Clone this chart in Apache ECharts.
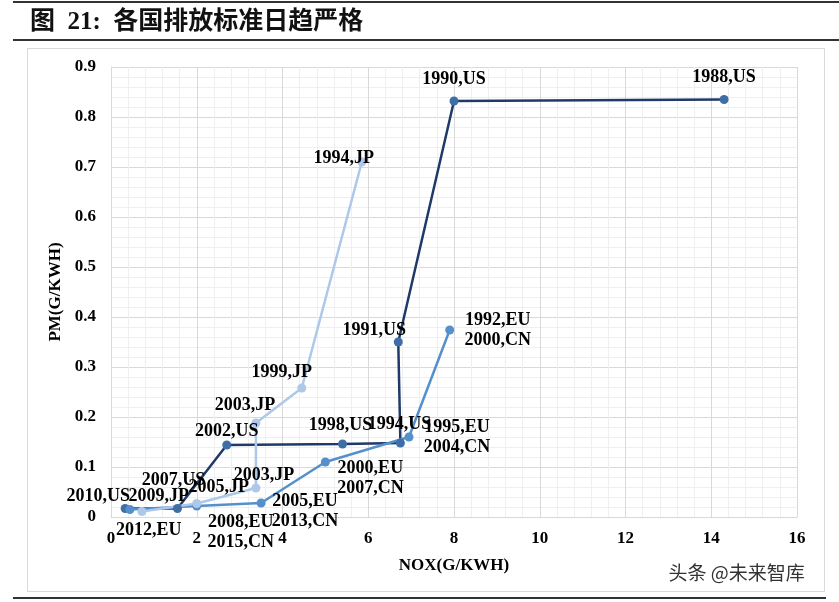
<!DOCTYPE html>
<html>
<head>
<meta charset="utf-8">
<script src="https://cdn.jsdelivr.net/npm/echarts@6/dist/echarts.min.js"></script>
<style>
  html, body { margin: 0; padding: 0; background: #fff; }
  #chart { width: 839px; height: 602px; }
</style>
</head>
<body>
<div id="chart"></div>
<script>
// values
const xTicks = [0, 2, 4, 6, 8, 10, 12, 14, 16]
const yTicks = [0, 0.1, 0.2, 0.3, 0.4, 0.5, 0.6, 0.7, 0.8, 0.9]

const usNox = [14.3, 8.0, 6.7, 6.75, 5.4, 2.7, 1.55, 0.33]
const usPm = [0.835, 0.832, 0.35, 0.148, 0.146, 0.144, 0.017, 0.017]
const usLabels = ['1988,US', '1990,US', '1991,US', '1994,US', '1998,US', '2002,US', '2007,US', '2010,US']

const euNox = [7.9, 6.95, 5.0, 3.5, 2.0, 0.44]
const euPm = [0.374, 0.16, 0.11, 0.028, 0.022, 0.015]
const euLabels = ['1992,EU\n2000,CN', '1995,EU\n2004,CN', '2000,EU\n2007,CN', '2005,EU\n2013,CN', '2008,EU\n2015,CN', '2012,EU']

const jpNox = [5.85, 4.45, 3.38, 3.38, 2.0, 0.72]
const jpPm = [0.71, 0.258, 0.188, 0.058, 0.027, 0.011]
const jpLabels = ['1994,JP', '1999,JP', '2003,JP', '2003,JP', '2005,JP', '2009,JP']

// label offsets from the point centre (px)
const usOff = [[0, -22], [0, -22], [-24, -12], [-1, -19], [-2, -19], [0, -14], [-4, -28], [-27, -12]]
const euOff = [[48, 0], [48, 0], [45, 16], [44, 8], [44, 26], [19, 21]]
const jpOff = [[-18, -4], [-20, -16], [-11, -18], [8, -13], [22, -16], [17, -15]]

const serif = '"Liberation Serif", "Times New Roman", serif'
const symSize = 9

const makeData = (xs, ys, labels, offs) =>
  xs.map((x, i) => ({
    value: [x, ys[i]],
    label: {
      formatter: labels[i],
      position: [symSize / 2 + offs[i][0], symSize / 2 + offs[i][1]],
    },
  }))

const labelStyle = {
  show: true,
  align: 'center',
  verticalAlign: 'middle',
  color: '#000',
  fontFamily: serif,
  fontWeight: 'bold',
  fontSize: 18,
  lineHeight: 20,
}

const series = [
  { name: 'US', line: '#1f3a68', dot: '#3f6ea7', xs: usNox, ys: usPm, labels: usLabels, offs: usOff },
  { name: 'EU', line: '#5590cc', dot: '#5590cc', xs: euNox, ys: euPm, labels: euLabels, offs: euOff },
  { name: 'JP', line: '#adc8e8', dot: '#adc8e8', xs: jpNox, ys: jpPm, labels: jpLabels, offs: jpOff },
].map((s) => ({
  name: s.name,
  type: 'line',
  data: makeData(s.xs, s.ys, s.labels, s.offs),
  symbol: 'circle',
  symbolSize: symSize,
  showAllSymbol: true,
  lineStyle: { color: s.line, width: 2.5 },
  itemStyle: { color: s.dot },
  label: labelStyle,
  labelLayout: { hideOverlap: false },
  z: 3,
  animation: false,
}))

const axisFont = { fontFamily: serif, fontWeight: 'bold', fontSize: 17, color: '#000' }

const chart = echarts.init(document.getElementById('chart'))
chart.setOption({
  backgroundColor: '#fff',
  animation: false,
  grid: { left: 111, right: 42, top: 67, bottom: 85 },
  xAxis: {
    type: 'value',
    min: xTicks[0],
    max: xTicks[xTicks.length - 1],
    interval: 2,
    name: 'NOX(G/KWH)',
    nameLocation: 'middle',
    nameGap: 40,
    nameTextStyle: axisFont,
    axisLine: { show: true, lineStyle: { color: '#d9d9d9' } },
    axisTick: { show: false },
    axisLabel: { ...axisFont, margin: 13 },
    splitLine: { show: true, lineStyle: { color: '#d9d9d9', width: 1 } },
    minorTick: { show: false, splitNumber: 5 },
    minorSplitLine: { show: true, lineStyle: { color: '#efefef', width: 1 } },
  },
  yAxis: {
    type: 'value',
    min: yTicks[0],
    max: yTicks[yTicks.length - 1],
    interval: 0.1,
    name: 'PM(G/KWH)',
    nameLocation: 'middle',
    nameGap: 35,
    nameTextStyle: axisFont,
    axisLine: { show: true, lineStyle: { color: '#d9d9d9' } },
    axisTick: { show: false },
    axisLabel: {
      ...axisFont, margin: 15,
      formatter: (v) => (v === 0 ? '0' : v.toFixed(1)),
    },
    splitLine: { show: true, lineStyle: { color: '#d9d9d9', width: 1 } },
    minorTick: { show: false, splitNumber: 5 },
    minorSplitLine: { show: true, lineStyle: { color: '#efefef', width: 1 } },
  },
  graphic: [
    { type: 'rect', shape: { x: 13, y: 1, width: 826, height: 2 }, style: { fill: '#333' } },
    { type: 'rect', shape: { x: 13, y: 39, width: 826, height: 2 }, style: { fill: '#333' } },
    { type: 'rect', shape: { x: 13, y: 597, width: 813, height: 2 }, style: { fill: '#333' } },
    {
      type: 'rect', z: -1,
      shape: { x: 27.5, y: 48.5, width: 797, height: 543 },
      style: { fill: 'none', stroke: '#d9d9d9', lineWidth: 1 },
    },
    {
      type: 'text', left: 30, top: 10,
      style: {
        text: '图  21:  各国排放标准日趋严格',
        font: 'bold 25px "Liberation Serif", "Noto Sans CJK SC", serif',
        fill: '#111',
      },
    },
    {
      type: 'text', left: 668, top: 563,
      style: {
        text: '头条 @未来智库',
        font: '19px "Noto Sans CJK SC", sans-serif',
        fill: '#333',
        stroke: '#fff',
        lineWidth: 1,
      },
    },
  ],
  series,
})
</script>
</body>
</html>
